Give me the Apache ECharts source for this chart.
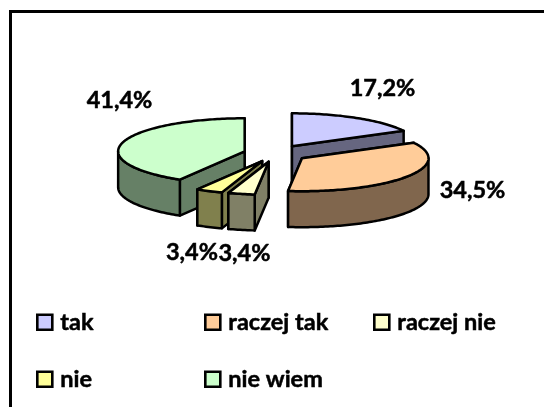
<!DOCTYPE html>
<html>
<head>
<meta charset="utf-8">
<style>html,body{margin:0;padding:0;background:#fff}#c{width:544px;height:407px}</style>
<script src="https://cdn.jsdelivr.net/npm/echarts@6/dist/echarts.min.js"></script>
</head>
<body>
<div id="c"></div>
<script>
const categories = ['tak', 'raczej tak', 'raczej nie', 'nie', 'nie wiem'];
const values = [17.2, 34.5, 3.4, 3.4, 41.4];
const valueLabels = ['17,2%', '34,5%', '3,4%', '3,4%', '41,4%'];

const topColors = ['#CCCCFF', '#FFCC99', '#FFFFCC', '#FFFF99', '#CCFFCC'];
const sideColors = ['#666680', '#80664D', '#808066', '#80804D', '#668066'];
const paintOrder = [0, 4, 3, 2, 1];
const labelPos = [[382.5, 88], [472.5, 190], [244.5, 253], [192, 252], [119.5, 100]];
const legendPos = [[36, 310], [204, 310], [373, 310], [36, 367], [204, 367]];

const FONT = 'Lato, "Open Sans", sans-serif';
const FONT_SIZE = 23.5;
const CX = 275.5, CY = 153.5, RX = 126.5, RY = 33, DEPTH = 36, EXPLODE = 32;
const total = values.reduce((a, b) => a + b, 0);

function slicePaths(i) {
  const before = values.slice(0, i).reduce((a, b) => a + b, 0);
  const a0 = before / total * 2 * Math.PI;
  const a1 = (before + values[i]) / total * 2 * Math.PI;
  const mid = (a0 + a1) / 2;
  const ax = CX + EXPLODE * Math.sin(mid);
  const ay = CY - EXPLODE * Math.cos(mid) * RY / RX;
  const pt = (a, d) => [ax + RX * Math.sin(a), ay - RY * Math.cos(a) + (d || 0)];
  const arc = (s, e, d) => {
    const n = Math.max(2, Math.ceil((e - s) / 0.02));
    const out = [];
    for (let k = 0; k <= n; k++) out.push(pt(s + (e - s) * k / n, d));
    return out;
  };
  // Radial walls: the one further back is painted first.
  const radial = [a0, a1].sort((p, q) => pt(p)[1] - pt(q)[1]);
  const walls = radial.map(a => [[ax, ay], pt(a), pt(a, DEPTH), [ax, ay + DEPTH]]);
  const fs = Math.max(a0, Math.PI / 2), fe = Math.min(a1, 3 * Math.PI / 2);
  if (fe > fs) walls.push(arc(fs, fe, 0).concat(arc(fs, fe, DEPTH).reverse()));
  return { walls, top: [[ax, ay]].concat(arc(a0, a1, 0)) };
}

function makeRenderItem(i) {
  return function () {
    const p = slicePaths(i);
    const poly = (points, fill) => ({
      type: 'polygon', shape: { points },
      style: { fill, stroke: '#000', lineWidth: 2.5, lineJoin: 'round' }
    });
    return {
      type: 'group',
      children: p.walls.map(w => poly(w, sideColors[i])).concat([poly(p.top, topColors[i])])
    };
  };
}

const series = paintOrder.map((i, order) => ({
  type: 'custom',
  name: categories[i],
  coordinateSystem: 'none',
  data: [values[i]],
  z: 2 + order,
  silent: true,
  animation: false,
  itemStyle: { color: topColors[i] },
  renderItem: makeRenderItem(i)
}));

const legend = categories.map((name, i) => ({
  data: [{ name, icon: 'rect', itemStyle: { color: topColors[i], borderColor: '#000', borderWidth: 2.6 } }],
  left: legendPos[i][0],
  top: legendPos[i][1],
  padding: 0,
  itemWidth: 15,
  itemHeight: 15,
  selectedMode: false,
  textStyle: { fontFamily: FONT, fontWeight: 'bold', fontSize: FONT_SIZE, color: '#000', padding: [0, 0, 0, 3], textBorderColor: '#000', textBorderWidth: 0.5 }
}));

const graphic = [{
  type: 'polyline', silent: true, z: 1,
  shape: { points: [[10.5, 407], [10.5, 11.5], [544, 11.5]] },
  style: { fill: null, stroke: '#000', lineWidth: 3 }
}].concat(valueLabels.map((t, i) => ({
  type: 'text', silent: true, z: 50,
  x: labelPos[i][0], y: labelPos[i][1],
  style: { text: t, font: 'bold ' + FONT_SIZE + 'px ' + FONT, fill: '#000', stroke: '#000', lineWidth: 0.5, align: 'center', verticalAlign: 'middle' }
})));

const chart = echarts.init(document.getElementById('c'), null, { renderer: 'canvas' });
chart.setOption({
  animation: false,
  backgroundColor: '#fff',
  legend,
  graphic,
  series
});
</script>
</body>
</html>
